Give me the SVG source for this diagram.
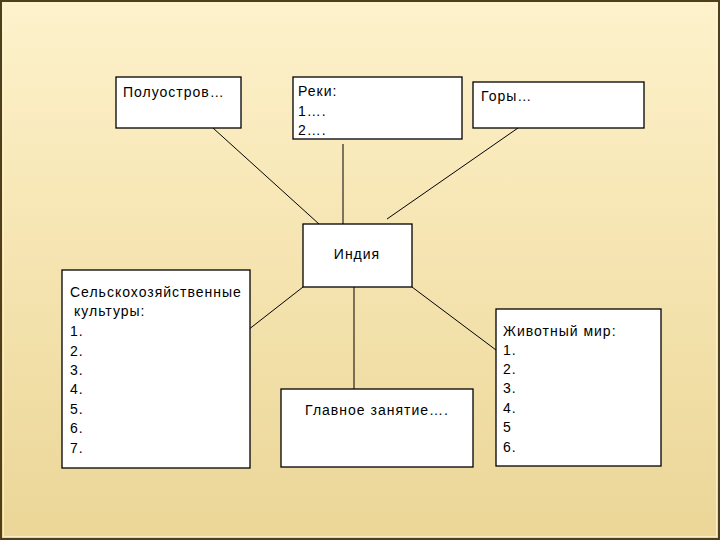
<svg xmlns="http://www.w3.org/2000/svg" width="720" height="540" viewBox="0 0 720 540">
<defs>
<linearGradient id="bg" x1="0" y1="0" x2="0" y2="1">
<stop offset="0" stop-color="#fdf2cc"/>
<stop offset="0.35" stop-color="#f8e8b8"/>
<stop offset="1" stop-color="#ebd697"/>
</linearGradient>
<style>
.box{fill:#ffffff;stroke:#000000;stroke-width:1.3}
.t{font-family:"Liberation Sans",Arial,sans-serif;font-size:14px;letter-spacing:1px;fill:#000000}
.c{stroke:#000000;stroke-width:1;fill:none}
</style>
</defs>
<rect x="0" y="0" width="720" height="540" fill="url(#bg)"/>
<rect x="1" y="1" width="718" height="538" fill="none" stroke="#4e3e1c" stroke-width="2"/>
<rect x="3.5" y="3.5" width="713" height="533" fill="none" stroke="#fff6d8" stroke-width="1" opacity="0.7"/>
<g id="connectors">
<line class="c" x1="213" y1="128" x2="319" y2="224"/>
<line class="c" x1="343" y1="144" x2="343" y2="224"/>
<line class="c" x1="518" y1="128" x2="387" y2="219"/>
<line class="c" x1="303" y1="287" x2="248" y2="330"/>
<line class="c" x1="354" y1="287" x2="354" y2="389"/>
<line class="c" x1="412" y1="287" x2="496" y2="350"/>
</g>
<g id="poluostrov">
<rect class="box" x="116" y="77" width="125" height="51"/>
<text class="t" x="123" y="97">Полуостров…</text>
</g>
<g id="reki">
<rect class="box" x="293" y="77" width="169" height="62"/>
<text class="t" x="298" y="96">Реки:</text>
<text class="t" x="298" y="116">1….</text>
<text class="t" x="298" y="135">2….</text>
</g>
<g id="gory">
<rect class="box" x="473" y="82" width="171" height="46"/>
<text class="t" x="481" y="101">Горы…</text>
</g>
<g id="india">
<rect class="box" x="303" y="224" width="109" height="63"/>
<text class="t" x="357" y="259" text-anchor="middle">Индия</text>
</g>
<g id="selskoe">
<rect class="box" x="62" y="270" width="188" height="198"/>
<text class="t" x="70" y="297">Сельскохозяйственные</text>
<text class="t" x="74" y="316">культуры:</text>
<text class="t" x="70" y="336">1.</text>
<text class="t" x="70" y="356">2.</text>
<text class="t" x="70" y="375">3.</text>
<text class="t" x="70" y="394">4.</text>
<text class="t" x="70" y="414">5.</text>
<text class="t" x="70" y="433">6.</text>
<text class="t" x="70" y="453">7.</text>
</g>
<g id="glavnoe">
<rect class="box" x="281" y="389" width="192" height="78"/>
<text class="t" x="377" y="415" text-anchor="middle">Главное занятие….</text>
</g>
<g id="zhivotnyi">
<rect class="box" x="496" y="309" width="165" height="157"/>
<text class="t" x="503" y="336">Животный мир:</text>
<text class="t" x="503" y="355">1.</text>
<text class="t" x="503" y="374">2.</text>
<text class="t" x="503" y="393">3.</text>
<text class="t" x="503" y="413">4.</text>
<text class="t" x="503" y="432">5</text>
<text class="t" x="503" y="452">6.</text>
</g>
</svg>
